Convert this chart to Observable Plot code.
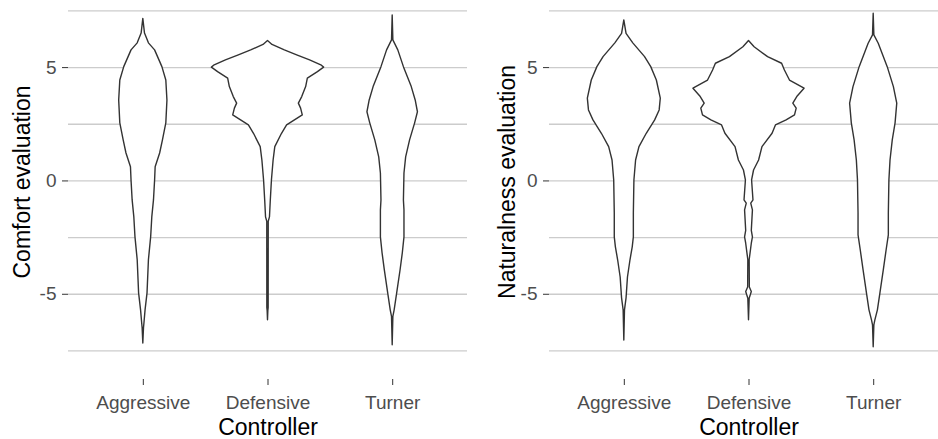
<!DOCTYPE html>
<html>
<head>
<meta charset="utf-8">
<script src="https://cdn.jsdelivr.net/npm/d3@7"></script>
<script src="https://cdn.jsdelivr.net/npm/@observablehq/plot@0.6"></script>
<style>
  html, body { margin: 0; padding: 0; background: white; }
  #wrap { display: flex; width: 938px; height: 439px; overflow: hidden; }
  #wrap > * { flex-shrink: 0; }
</style>
</head>
<body>
<div id="wrap"></div>
<script>
// ---- data ----
const controllers = ["Aggressive", "Defensive", "Turner"];
const gridValues = [-7.5, -5, -2.5, 0, 2.5, 5, 7.5];
const yTicks = [-5, 0, 5];

// [evaluation value, relative density (1 = widest violin)]
const comfortAggressive = [[7.15,0],[6.5,0.03],[6.07,0.1],[5.76,0.21],[5.02,0.34],[4.43,0.41],[3.55,0.43],[2.54,0.41],[1.79,0.35],[1.21,0.3],[0.6,0.22],[0.02,0.21],[-0.86,0.19],[-1.61,0.16],[-2.48,0.14],[-3.5,0.1],[-4.96,0.075],[-5.71,0.04],[-6.29,0.02],[-6.5,0.012],[-7.17,0]];
const comfortDefensive = [[6.17,0],[6.0,0.08],[5.76,0.3],[5.54,0.52],[5.32,0.75],[5.1,0.95],[5.0,1.0],[4.8,0.89],[4.51,0.71],[4.14,0.68],[3.7,0.61],[3.41,0.55],[3.19,0.59],[2.89,0.62],[2.67,0.48],[2.45,0.34],[2.08,0.25],[1.49,0.13],[0.9,0.1],[0.02,0.07],[-0.86,0.05],[-1.61,0.035],[-1.8,0.013],[-5.6,0.012],[-5.75,0.006],[-6.15,0]];
const comfortTurner = [[7.3,0],[6.2,0.012],[5.76,0.1],[5.02,0.2],[4.14,0.34],[3.55,0.41],[3.03,0.45],[2.54,0.4],[1.79,0.31],[1.04,0.24],[0.33,0.21],[-0.86,0.2],[-1.3,0.21],[-2.49,0.21],[-3.2,0.18],[-3.95,0.14],[-4.96,0.08],[-5.71,0.035],[-6.0,0.012],[-7.25,0]];

const naturalAggressive = [[7.08,0],[6.49,0.04],[6.07,0.16],[5.46,0.37],[5.02,0.48],[4.43,0.58],[3.63,0.65],[3.11,0.63],[2.67,0.55],[2.08,0.4],[1.49,0.27],[0.9,0.21],[0.02,0.18],[-1.43,0.17],[-2.49,0.17],[-2.93,0.15],[-3.5,0.11],[-4.26,0.065],[-5.18,0.04],[-5.71,0.012],[-7.04,0]];
const naturalDefensive = [[6.17,0],[5.9,0.1],[5.46,0.34],[5.17,0.59],[4.87,0.64],[4.43,0.73],[4.07,0.99],[3.7,0.86],[3.41,0.79],[3.19,0.85],[2.89,0.82],[2.67,0.67],[2.45,0.48],[2.08,0.42],[1.49,0.24],[0.9,0.18],[0.46,0.09],[0.02,0.055],[-0.86,0.08],[-1.0,0.04],[-1.3,0.07],[-2.2,0.05],[-2.49,0.07],[-2.77,0.05],[-3.5,0.012],[-4.7,0.015],[-4.9,0.05],[-5.2,0.012],[-6.15,0]];
const naturalTurner = [[7.38,0],[6.42,0.012],[6.05,0.09],[5.02,0.25],[4.14,0.36],[3.41,0.42],[2.54,0.39],[1.79,0.34],[0.9,0.3],[0.02,0.28],[-1.43,0.27],[-2.4,0.27],[-3.07,0.23],[-3.95,0.18],[-4.96,0.12],[-5.71,0.075],[-6.15,0.03],[-6.37,0.012],[-7.34,0]];

// ---- build tables ----
function rows(pairs, ctrl) {
  return pairs.map(([value, density]) => ({controller: ctrl, value, density}));
}
const comfortRows = [
  ...rows(comfortAggressive, "Aggressive"),
  ...rows(comfortDefensive, "Defensive"),
  ...rows(comfortTurner, "Turner")
];
const naturalRows = [
  ...rows(naturalAggressive, "Aggressive"),
  ...rows(naturalDefensive, "Defensive"),
  ...rows(naturalTurner, "Turner")
];

const pos = d => controllers.indexOf(d.controller) + 1;
const HALF = 0.45;
const FONT = "'Liberation Sans', Arial, Helvetica, sans-serif";

function panel(data, yTitle, {width, marginLeft, marginRight, titleDx}) {
  return Plot.plot({
    width,
    height: 439,
    marginTop: 0,
    marginBottom: 60,
    marginLeft,
    marginRight,
    style: {fontFamily: FONT, background: "white", overflow: "visible"},
    x: {domain: [0.4, 3.6]},
    y: {domain: [-8.76, 7.96]},
    marks: [
      Plot.ruleY(gridValues, {stroke: "#cccccc", strokeWidth: 1.3}),
      Plot.areaX(data, {
        y: "value",
        x1: d => pos(d) - HALF * d.density,
        x2: d => pos(d) + HALF * d.density,
        z: "controller",
        fill: "white",
        stroke: "#333333",
        strokeWidth: 1.4,
        strokeLinejoin: "round"
      }),
      Plot.axisY(yTicks, {
        tickSize: 6, tickPadding: 6, fontSize: 19,
        tickFormat: d => String(d),
        stroke: "#333333", fill: "#4d4d4d", label: null
      }),
      Plot.axisX([1, 2, 3], {
        tickSize: 6, tickPadding: 10, fontSize: 19,
        tickFormat: i => controllers[i - 1],
        stroke: "#333333", fill: "#4d4d4d", label: null
      }),
      Plot.text(["Controller"], {
        text: d => d, frameAnchor: "bottom", dy: 48.6,
        textAnchor: "middle", lineAnchor: "middle",
        fontSize: 23, fill: "black"
      }),
      Plot.text([yTitle], {
        text: d => d, frameAnchor: "left", rotate: -90,
        textAnchor: "middle", lineAnchor: "middle",
        dx: titleDx, dy: -8, fontSize: 23, fill: "black"
      })
    ]
  });
}

const wrap = document.getElementById("wrap");
wrap.append(panel(comfortRows, "Comfort evaluation", {width: 469, marginLeft: 68, marginRight: 2, titleDx: -45.5}));
wrap.append(panel(naturalRows, "Naturalness evaluation", {width: 479, marginLeft: 80, marginRight: 0, titleDx: -42}));
</script>
</body>
</html>
